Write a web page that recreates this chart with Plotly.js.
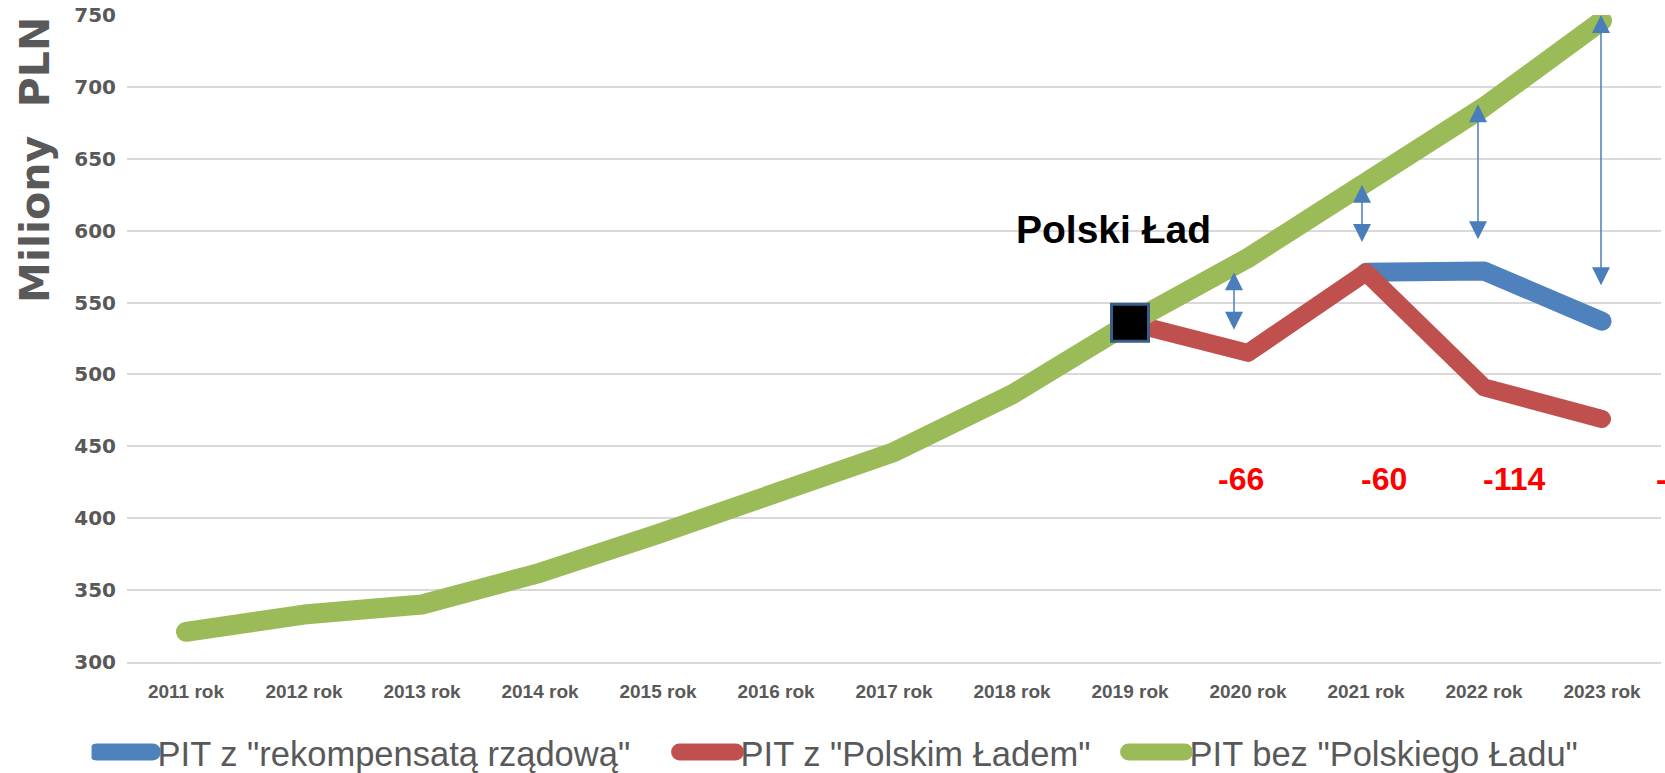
<!DOCTYPE html>
<html>
<head>
<meta charset="utf-8">
<script src="https://cdn.plot.ly/plotly-3.0.1.min.js"></script>
<style>
html, body { margin: 0; padding: 0; background: #ffffff; }
#chart { width: 1665px; height: 773px; }
.js-plotly-plot .scatterlayer path.js-line,
.js-plotly-plot .legendlines path { stroke-linecap: round; stroke-linejoin: round; }
.js-plotly-plot .legendlines path { stroke-width: 17px !important; }
</style>
</head>
<body>
<div id="chart"></div>
<script>
// ---- data ----
const years = ['2011 rok','2012 rok','2013 rok','2014 rok','2015 rok','2016 rok','2017 rok',
               '2018 rok','2019 rok','2020 rok','2021 rok','2022 rok','2023 rok'];
const pitBezLadu   = [321, 333, 340, 362, 389, 416, 446, 486, 536, 581, 632, 686, 746];
const pitPolskiLad = [null, null, null, null, null, null, null, null, 536, 515, 571, 491, 469];
const pitRekomp    = [null, null, null, null, null, null, null, null, null, null, 571, 572, 537];

const seriesNames = ['PIT z "rekompensatą rządową"', 'PIT z "Polskim Ładem"', 'PIT bez "Polskiego Ładu"'];
const seriesColors = ['#4F81BD', '#C0504D', '#9BBB59'];

const markYear = '2019 rok';              // "Polski Ład" start marker
const markLabel = 'Polski Ład';

const diffYears  = ['2020 rok', '2021 rok', '2022 rok', '2023 rok'];
const diffLabels = ['-66', '-60', '-114', '-210'];
const diffLabelY = [427, 427, 427, 427];
const diffLabelShift = [-7, 18, 30, 86];

const arrowTop    = [571, 632, 688, 750];
const arrowBottom = [530, 591, 593, 561];
const arrowShift  = [-14, -4, -6, -1];

const yTicks = [300, 350, 400, 450, 500, 550, 600, 650, 700, 750];

// ---- traces ----
const traces = [
  { x: years, y: pitRekomp, name: seriesNames[0], type: 'scatter', mode: 'lines',
    line: { color: seriesColors[0], width: 19 }, connectgaps: false, legendwidth: 512 },
  { x: years, y: pitPolskiLad, name: seriesNames[1], type: 'scatter', mode: 'lines',
    line: { color: seriesColors[1], width: 18 }, connectgaps: false, legendwidth: 378 },
  { x: years, y: pitBezLadu, name: seriesNames[2], type: 'scatter', mode: 'lines',
    line: { color: seriesColors[2], width: 20 } },
  { x: [markYear], y: [pitBezLadu[years.indexOf(markYear)]], type: 'scatter', mode: 'markers',
    showlegend: false, hoverinfo: 'skip',
    marker: { symbol: 'square', size: 37, color: '#000000', line: { color: '#385D8A', width: 3 } } }
];

// ---- annotations ----
const annotations = [];
annotations.push({
  xref: 'paper', yref: 'paper', x: -0.06, y: 0.776, xanchor: 'center', yanchor: 'middle',
  text: 'Miliony  PLN', textangle: -90, showarrow: false,
  font: { family: 'DejaVu Sans', size: 41, color: '#595959', weight: 'bold' }
});
annotations.push({
  xref: 'paper', yref: 'paper', x: 0.6434, y: 0.668, xanchor: 'center', yanchor: 'middle',
  text: '<b>' + markLabel + '</b>', showarrow: false,
  font: { family: 'Liberation Sans, Arial, sans-serif', size: 39, color: '#000000' }
});
diffYears.forEach((yr, i) => {
  annotations.push({
    xref: 'x', yref: 'y', x: yr, y: diffLabelY[i], xshift: diffLabelShift[i],
    text: '<b>' + diffLabels[i] + '</b>', showarrow: false, xanchor: 'center', yanchor: 'middle',
    font: { family: 'Liberation Sans, Arial, sans-serif', size: 32, color: '#FF0000' }
  });
  annotations.push({
    xref: 'x', yref: 'y', x: yr, y: arrowTop[i], axref: 'x', ayref: 'y', ax: yr, ay: arrowBottom[i],
    xshift: arrowShift[i], text: '', showarrow: true, arrowside: 'end+start',
    arrowhead: 2, startarrowhead: 2, arrowsize: 2.4, startarrowsize: 2.4, arrowwidth: 1.5,
    arrowcolor: '#4A7EBB', standoff: 0, startstandoff: 0
  });
});

const layout = {
  width: 1665, height: 773,
  paper_bgcolor: '#ffffff', plot_bgcolor: '#ffffff',
  margin: { l: 127, r: 4, t: 15, b: 111, pad: 0 },
  showlegend: true,
  legend: {
    orientation: 'h', xref: 'container', yref: 'container', x: 0.055, y: 0.027,
    xanchor: 'left', yanchor: 'middle', itemwidth: 56, traceorder: 'normal',
    font: { family: 'Liberation Sans, Arial, sans-serif', size: 34.5, color: '#595959' },
    bgcolor: 'rgba(0,0,0,0)'
  },
  xaxis: {
    type: 'category', categoryorder: 'array', categoryarray: years,
    range: [-0.5, 12.5], showgrid: false, zeroline: false,
    showline: true, linecolor: '#D9D9D9', linewidth: 2, ticks: '',
    ticklabelstandoff: 11,
    tickfont: { family: 'Liberation Sans, Arial, sans-serif', size: 19, color: '#595959', weight: 'bold' }
  },
  yaxis: {
    range: [300, 750], tickvals: yTicks, showgrid: true, gridcolor: '#D9D9D9', gridwidth: 2,
    zeroline: false, showline: false, ticks: '', ticklabelstandoff: 10,
    tickfont: { family: 'DejaVu Sans', size: 20, color: '#595959', weight: 'bold' }
  },
  annotations: annotations
};

Plotly.newPlot('chart', traces, layout, { staticPlot: true });
</script>
</body>
</html>
